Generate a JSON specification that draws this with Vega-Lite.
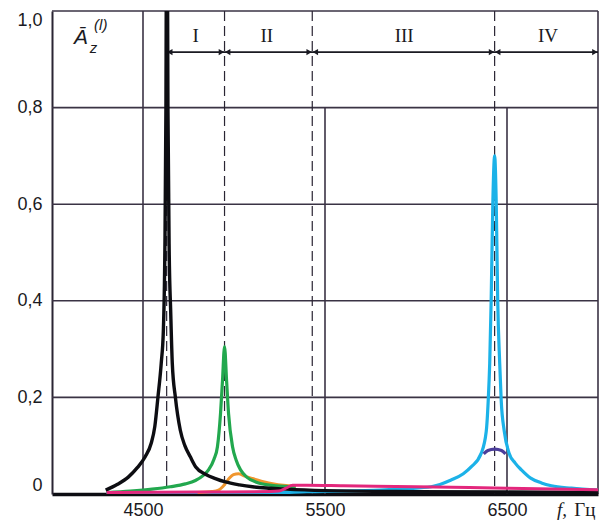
{
  "$schema": "https://vega.github.io/schema/vega-lite/v6.json",
  "autosize": "none",
  "width": 546,
  "height": 483,
  "padding": {"left": 52, "top": 11, "right": 5, "bottom": 32},
  "background": "white",
  "config": {"view": {"stroke": null}},
  "datasets": {
    "curves": [
      {"s": "cyan", "f": 4300, "A": 0.001}, {"s": "cyan", "f": 5000, "A": 0.002}, {"s": "cyan", "f": 5250, "A": 0.003},
      {"s": "cyan", "f": 5400, "A": 0.005}, {"s": "cyan", "f": 5600, "A": 0.006}, {"s": "cyan", "f": 5800, "A": 0.008},
      {"s": "cyan", "f": 5950, "A": 0.011}, {"s": "cyan", "f": 6083, "A": 0.015}, {"s": "cyan", "f": 6193, "A": 0.029},
      {"s": "cyan", "f": 6260, "A": 0.042}, {"s": "cyan", "f": 6303, "A": 0.056}, {"s": "cyan", "f": 6358, "A": 0.084},
      {"s": "cyan", "f": 6386, "A": 0.13}, {"s": "cyan", "f": 6397, "A": 0.195}, {"s": "cyan", "f": 6405, "A": 0.27},
      {"s": "cyan", "f": 6413, "A": 0.4}, {"s": "cyan", "f": 6422, "A": 0.6}, {"s": "cyan", "f": 6432, "A": 0.70},
      {"s": "cyan", "f": 6441, "A": 0.6}, {"s": "cyan", "f": 6449, "A": 0.4}, {"s": "cyan", "f": 6460, "A": 0.27},
      {"s": "cyan", "f": 6468, "A": 0.195}, {"s": "cyan", "f": 6485, "A": 0.13}, {"s": "cyan", "f": 6512, "A": 0.084},
      {"s": "cyan", "f": 6545, "A": 0.064}, {"s": "cyan", "f": 6579, "A": 0.05}, {"s": "cyan", "f": 6630, "A": 0.033},
      {"s": "cyan", "f": 6689, "A": 0.023}, {"s": "cyan", "f": 6744, "A": 0.017}, {"s": "cyan", "f": 6854, "A": 0.012},
      {"s": "cyan", "f": 7000, "A": 0.008},
      {"s": "purple", "f": 6372, "A": 0.083}, {"s": "purple", "f": 6395, "A": 0.09}, {"s": "purple", "f": 6432, "A": 0.093},
      {"s": "purple", "f": 6470, "A": 0.09}, {"s": "purple", "f": 6492, "A": 0.083},
      {"s": "orange", "f": 4800, "A": 0.003}, {"s": "orange", "f": 4880, "A": 0.005}, {"s": "orange", "f": 4915, "A": 0.008},
      {"s": "orange", "f": 4935, "A": 0.014}, {"s": "orange", "f": 4953, "A": 0.022}, {"s": "orange", "f": 4975, "A": 0.033},
      {"s": "orange", "f": 4997, "A": 0.04}, {"s": "orange", "f": 5025, "A": 0.042}, {"s": "orange", "f": 5060, "A": 0.037},
      {"s": "orange", "f": 5102, "A": 0.032}, {"s": "orange", "f": 5190, "A": 0.023}, {"s": "orange", "f": 5300, "A": 0.017},
      {"s": "orange", "f": 5340, "A": 0.016},
      {"s": "green", "f": 4300, "A": 0.003}, {"s": "green", "f": 4430, "A": 0.006}, {"s": "green", "f": 4550, "A": 0.01},
      {"s": "green", "f": 4650, "A": 0.015}, {"s": "green", "f": 4733, "A": 0.021}, {"s": "green", "f": 4788, "A": 0.028},
      {"s": "green", "f": 4830, "A": 0.038}, {"s": "green", "f": 4860, "A": 0.05}, {"s": "green", "f": 4890, "A": 0.072},
      {"s": "green", "f": 4909, "A": 0.098}, {"s": "green", "f": 4926, "A": 0.167}, {"s": "green", "f": 4937, "A": 0.236},
      {"s": "green", "f": 4948, "A": 0.305}, {"s": "green", "f": 4959, "A": 0.236}, {"s": "green", "f": 4970, "A": 0.167},
      {"s": "green", "f": 4992, "A": 0.098}, {"s": "green", "f": 5012, "A": 0.07}, {"s": "green", "f": 5036, "A": 0.05},
      {"s": "green", "f": 5070, "A": 0.035}, {"s": "green", "f": 5119, "A": 0.025}, {"s": "green", "f": 5229, "A": 0.017},
      {"s": "green", "f": 5339, "A": 0.015},
      {"s": "black", "f": 4295, "A": 0.008}, {"s": "black", "f": 4360, "A": 0.02}, {"s": "black", "f": 4419, "A": 0.035},
      {"s": "black", "f": 4470, "A": 0.055}, {"s": "black", "f": 4512, "A": 0.077}, {"s": "black", "f": 4545, "A": 0.105},
      {"s": "black", "f": 4565, "A": 0.14}, {"s": "black", "f": 4582, "A": 0.2}, {"s": "black", "f": 4600, "A": 0.27},
      {"s": "black", "f": 4612, "A": 0.34}, {"s": "black", "f": 4620, "A": 0.5}, {"s": "black", "f": 4626, "A": 0.8},
      {"s": "black", "f": 4631, "A": 1.4}, {"s": "black", "f": 4637, "A": 0.8}, {"s": "black", "f": 4644, "A": 0.5},
      {"s": "black", "f": 4652, "A": 0.38}, {"s": "black", "f": 4661, "A": 0.27}, {"s": "black", "f": 4678, "A": 0.2},
      {"s": "black", "f": 4705, "A": 0.132}, {"s": "black", "f": 4730, "A": 0.1}, {"s": "black", "f": 4760, "A": 0.077},
      {"s": "black", "f": 4790, "A": 0.056}, {"s": "black", "f": 4843, "A": 0.041}, {"s": "black", "f": 4898, "A": 0.032},
      {"s": "black", "f": 4953, "A": 0.025}, {"s": "black", "f": 5030, "A": 0.019}, {"s": "black", "f": 5102, "A": 0.015},
      {"s": "black", "f": 5200, "A": 0.012}, {"s": "black", "f": 5284, "A": 0.01}, {"s": "black", "f": 5500, "A": 0.007},
      {"s": "black", "f": 6000, "A": 0.005}, {"s": "black", "f": 6500, "A": 0.004}, {"s": "black", "f": 7000, "A": 0.003},
      {"s": "pink", "f": 4300, "A": 0.003}, {"s": "pink", "f": 4800, "A": 0.004}, {"s": "pink", "f": 5200, "A": 0.005},
      {"s": "pink", "f": 5245, "A": 0.006}, {"s": "pink", "f": 5285, "A": 0.012}, {"s": "pink", "f": 5322, "A": 0.018},
      {"s": "pink", "f": 5400, "A": 0.018}, {"s": "pink", "f": 5600, "A": 0.017}, {"s": "pink", "f": 6000, "A": 0.015},
      {"s": "pink", "f": 6500, "A": 0.012}, {"s": "pink", "f": 7000, "A": 0.009}
    ]
  },
  "layer": [
    {
      "data": {"values": [{"y": 0.2}, {"y": 0.4}, {"y": 0.6}, {"y": 0.8}, {"y": 1.0}]},
      "mark": {"type": "rule", "color": "#3a3344", "strokeWidth": 1.6},
      "encoding": {"y": {"field": "y", "type": "quantitative"}}
    },
    {
      "data": {"values": [{"f": 4500, "y0": 0, "y1": 1}, {"f": 5500, "y0": 0, "y1": 0.8}, {"f": 6500, "y0": 0, "y1": 0.8}, {"f": 7000, "y0": 0, "y1": 1}]},
      "mark": {"type": "rule", "color": "#3a3344", "strokeWidth": 1.6},
      "encoding": {
        "x": {"field": "f", "type": "quantitative"},
        "y": {"field": "y0", "type": "quantitative"},
        "y2": {"field": "y1"}
      }
    },
    {
      "data": {"values": [{"f": 4630}, {"f": 4948}, {"f": 5430}, {"f": 6432}]},
      "mark": {"type": "rule", "color": "#2a2533", "strokeWidth": 1.2, "strokeDash": [10, 5]},
      "encoding": {"x": {"field": "f", "type": "quantitative"}}
    },
    {
      "data": {"values": [{"a": 4630, "b": 7000, "y": 0.915}]},
      "mark": {"type": "rule", "color": "#1a1a22", "strokeWidth": 1.8},
      "encoding": {
        "x": {"field": "a", "type": "quantitative"},
        "x2": {"field": "b"},
        "y": {"field": "y", "type": "quantitative"}
      }
    },
    {
      "data": {"values": [
        {"f": 4647, "d": "L"}, {"f": 4931, "d": "R"}, {"f": 4965, "d": "L"}, {"f": 5413, "d": "R"},
        {"f": 5447, "d": "L"}, {"f": 6415, "d": "R"}, {"f": 6449, "d": "L"}, {"f": 6983, "d": "R"}
      ]},
      "mark": {"type": "point", "filled": true, "color": "#1a1a22", "opacity": 1, "size": 40},
      "encoding": {
        "x": {"field": "f", "type": "quantitative"},
        "y": {"datum": 0.915, "type": "quantitative"},
        "shape": {"field": "d", "type": "nominal", "scale": {"domain": ["L", "R"], "range": ["triangle-left", "triangle-right"]}, "legend": null}
      }
    },
    {
      "data": {"values": [{"t": "I", "f": 4790}, {"t": "II", "f": 5180}, {"t": "III", "f": 5935}, {"t": "IV", "f": 6725}]},
      "mark": {"type": "text", "font": "Liberation Serif", "fontSize": 19, "color": "#1a1a22"},
      "encoding": {
        "x": {"field": "f", "type": "quantitative"},
        "y": {"datum": 0.948, "type": "quantitative"},
        "text": {"field": "t"}
      }
    },
    {
      "data": {"name": "curves"},
      "transform": [{"filter": "datum.s === 'cyan'"}],
      "mark": {"type": "line", "clip": true, "strokeWidth": 3.2, "color": "#1cb2e8", "interpolate": "monotone"},
      "encoding": {"x": {"field": "f", "type": "quantitative"}, "y": {"field": "A", "type": "quantitative"}}
    },
    {
      "data": {"name": "curves"},
      "transform": [{"filter": "datum.s === 'purple'"}],
      "mark": {"type": "line", "clip": true, "strokeWidth": 3.2, "color": "#4a3d9a", "interpolate": "monotone"},
      "encoding": {"x": {"field": "f", "type": "quantitative"}, "y": {"field": "A", "type": "quantitative"}}
    },
    {
      "data": {"name": "curves"},
      "transform": [{"filter": "datum.s === 'orange'"}],
      "mark": {"type": "line", "clip": true, "strokeWidth": 3, "color": "#f0962e", "interpolate": "monotone"},
      "encoding": {"x": {"field": "f", "type": "quantitative"}, "y": {"field": "A", "type": "quantitative"}}
    },
    {
      "data": {"name": "curves"},
      "transform": [{"filter": "datum.s === 'green'"}],
      "mark": {"type": "line", "clip": true, "strokeWidth": 3.2, "color": "#22a84e", "interpolate": "monotone"},
      "encoding": {"x": {"field": "f", "type": "quantitative"}, "y": {"field": "A", "type": "quantitative"}}
    },
    {
      "data": {"name": "curves"},
      "transform": [{"filter": "datum.s === 'black'"}],
      "mark": {"type": "line", "clip": true, "strokeWidth": 3.4, "color": "#0d0d12", "interpolate": "monotone"},
      "encoding": {"x": {"field": "f", "type": "quantitative"}, "y": {"field": "A", "type": "quantitative"}}
    },
    {
      "data": {"name": "curves"},
      "transform": [{"filter": "datum.s === 'pink'"}],
      "mark": {"type": "line", "clip": true, "strokeWidth": 3, "color": "#e3277c", "interpolate": "monotone"},
      "encoding": {"x": {"field": "f", "type": "quantitative"}, "y": {"field": "A", "type": "quantitative"}}
    },
    {
      "data": {"values": [{"t": "Ā", "f": 4160, "y": 0.944}]},
      "mark": {"type": "text", "font": "Liberation Sans", "fontStyle": "italic", "fontSize": 21, "color": "#1a1a22"},
      "encoding": {
        "x": {"field": "f", "type": "quantitative"},
        "y": {"field": "y", "type": "quantitative"},
        "text": {"field": "t"}
      }
    },
    {
      "data": {"values": [{"t": "z", "f": 4228, "y": 0.924}, {"t": "(l)", "f": 4268, "y": 0.97}]},
      "mark": {"type": "text", "font": "Liberation Sans", "fontStyle": "italic", "fontSize": 15, "color": "#1a1a22"},
      "encoding": {
        "x": {"field": "f", "type": "quantitative"},
        "y": {"field": "y", "type": "quantitative"},
        "text": {"field": "t"}
      }
    },
    {
      "data": {"values": [{"t": "f,", "f": 6775, "y": -0.034}]},
      "mark": {"type": "text", "font": "Liberation Serif", "fontStyle": "italic", "fontSize": 19, "align": "left", "color": "#1a1a22"},
      "encoding": {
        "x": {"field": "f", "type": "quantitative"},
        "y": {"field": "y", "type": "quantitative"},
        "text": {"field": "t"}
      }
    },
    {
      "data": {"values": [{"t": "Гц", "f": 6870, "y": -0.034}]},
      "mark": {"type": "text", "font": "Liberation Serif", "fontSize": 19, "align": "left", "color": "#1a1a22"},
      "encoding": {
        "x": {"field": "f", "type": "quantitative"},
        "y": {"field": "y", "type": "quantitative"},
        "text": {"field": "t"}
      }
    },
    {
      "data": {"values": [{"f": 4000, "A": 0}]},
      "mark": {"type": "point", "opacity": 0},
      "encoding": {
        "x": {"field": "f", "type": "quantitative",
          "scale": {"domain": [4000, 7000], "nice": false, "zero": false},
          "axis": {"values": [4500, 5500, 6500], "format": "d", "title": null, "grid": false, "ticks": false,
            "domainColor": "#0d0d12", "domainWidth": 3.5, "labelFont": "Liberation Sans", "labelFontSize": 18,
            "labelColor": "#1a1a22", "labelPadding": 7}},
        "y": {"field": "A", "type": "quantitative",
          "scale": {"domain": [0, 1], "nice": false},
          "axis": {"values": [0, 0.2, 0.4, 0.6, 0.8, 1.0], "title": null, "grid": false, "ticks": false,
            "labelExpr": "datum.value == 0 ? '0' : replace(format(datum.value, '.1f'), '.', ',')",
            "labelFlush": true, "domainColor": "#2a2533", "domainWidth": 2,
            "labelFont": "Liberation Sans", "labelFontSize": 18, "labelColor": "#1a1a22", "labelPadding": 10}}
      }
    }
  ]
}
